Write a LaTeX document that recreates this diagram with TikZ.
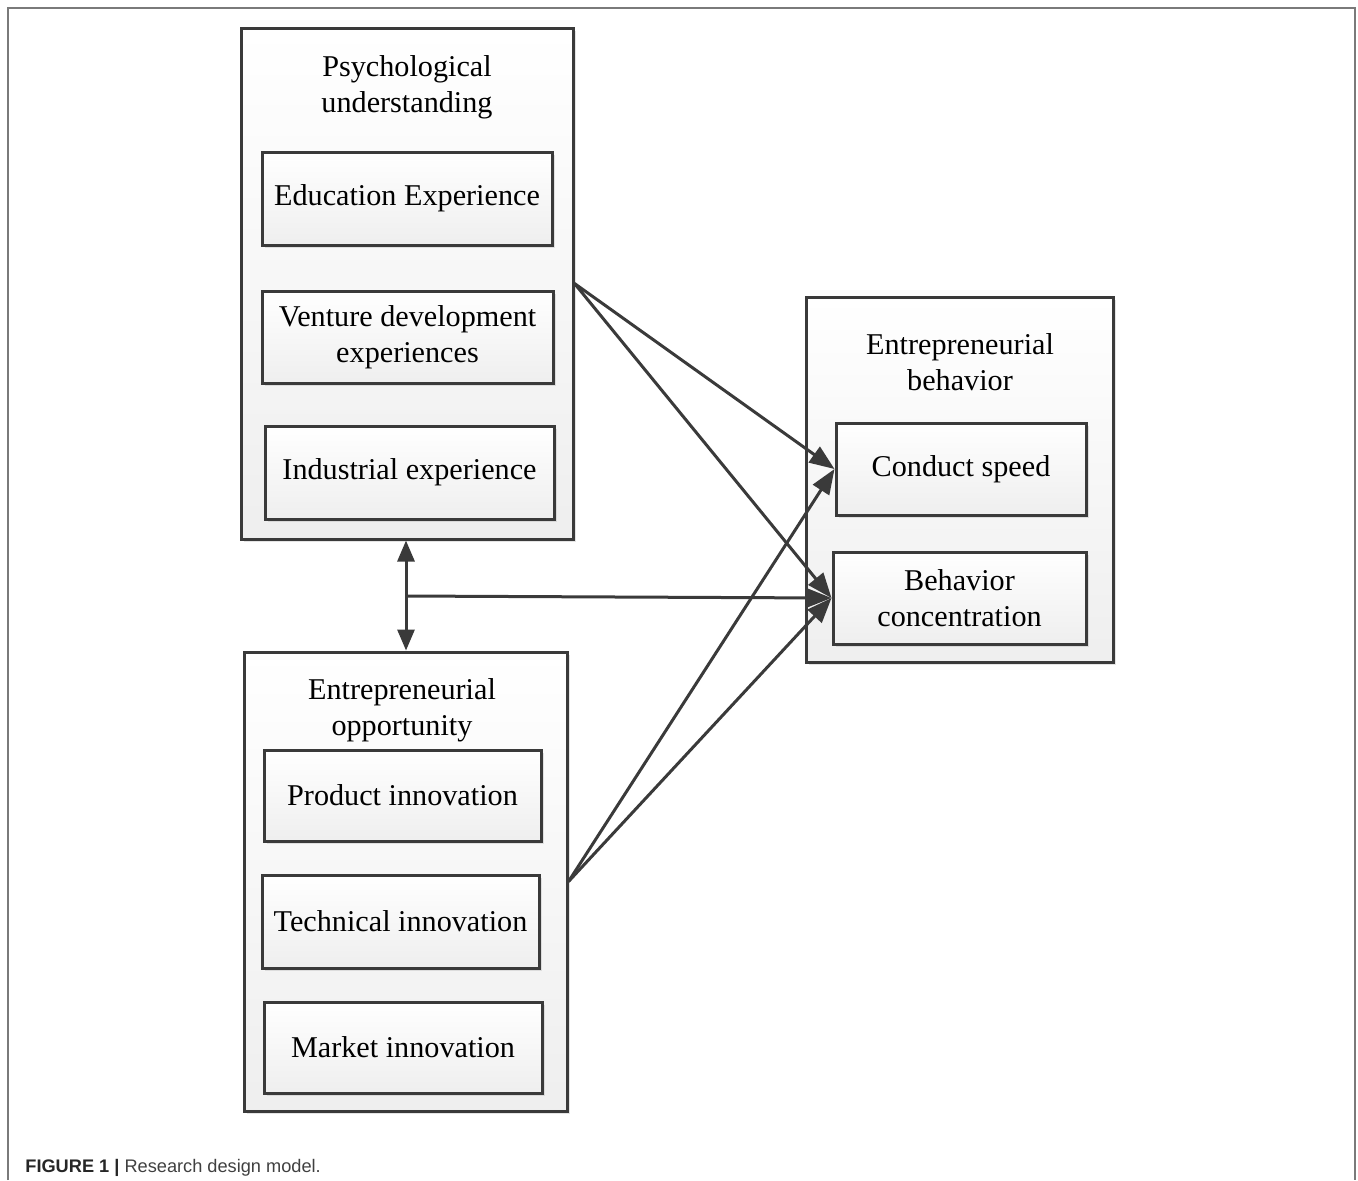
\documentclass[tikz,border=0pt]{standalone}
\usepackage{fontspec}
\setmainfont{Liberation Serif}
\newfontfamily\capfont{Liberation Sans}
\usetikzlibrary{positioning}
\usetikzlibrary{arrows.meta}
\usetikzlibrary{shadows}
\definecolor{boxline}{HTML}{3A3A3A}
\definecolor{framegray}{HTML}{7A7A7A}
\tikzset{
	every node/.style = {font=\fontsize{15.1}{18}\selectfont}
}
\tikzset{
	outerbox/.style = {draw=boxline, line width=1.5pt, top color=white, bottom color=gray!13,
		drop shadow={shadow xshift=1.6pt, shadow yshift=-1.6pt, fill=gray!60, opacity=.35}},
	innerbox/.style = {outerbox, align=center, inner sep=0pt},
	boxtitle/.style = {align=center, inner sep=0pt},
	link/.style = {draw=boxline, line width=1.5pt, -{Triangle[length=12.5pt, width=9.5pt]}}
}

\begin{document}
\begin{tikzpicture}[x=0.5pt, y=-0.5pt]
        \useasboundingbox (0,0) rectangle (1358,1180);

        % frame round the figure
        \draw[framegray, line width=0.9pt] (8,1180) -- (8,8) -- (1355,8) -- (1355,1180);

        % Psychological understanding
        \node[outerbox, minimum width=166pt, minimum height=255.5pt] (psych) at (407,283.5) {};
        \node[boxtitle] (psychtitle) at (407,87) {Psychological\\understanding};
        \node[innerbox, minimum width=145pt, minimum height=46.5pt] (edu) at (407,198.5) {Education Experience};
        \node[innerbox, minimum width=145.5pt, minimum height=46pt] (venture) at (407.5,337) {Venture development\\experiences};
        \node[innerbox, minimum width=144.5pt, minimum height=46.5pt] (industry) at (409.5,472.5) {Industrial experience};

        % Entrepreneurial opportunity
        \node[outerbox, minimum width=161.5pt, minimum height=229.5pt] (oppo) at (405.5,881.5) {};
        \node[boxtitle] (oppotitle) at (402,710) {Entrepreneurial\\opportunity};
        \node[innerbox, minimum width=138.5pt, minimum height=45.5pt] (product) at (402.5,795.5) {Product innovation};
        \node[innerbox, minimum width=138.5pt, minimum height=46.5pt] (technical) at (400.5,921.5) {Technical innovation};
        \node[innerbox, minimum width=139pt, minimum height=45.5pt] (market) at (403,1047.5) {Market innovation};

        % Entrepreneurial behavior
        \node[outerbox, minimum width=153.5pt, minimum height=182.5pt] (behav) at (959.5,479.5) {};
        \node[boxtitle] (behavtitle) at (960,362) {Entrepreneurial\\behavior};
        \node[innerbox, minimum width=125pt, minimum height=46pt] (speed) at (961,469) {Conduct speed};
        \node[innerbox, minimum width=126.5pt, minimum height=46pt] (conc) at (959.5,598) {Behavior\\concentration};

        % connectors
        \coordinate (joint) at (406,596);
        \draw[link] (psych.east) -- (speed.west);
        \draw[link] (psych.east) -- (conc.west);
        \draw[link] (oppo.east) -- (speed.west);
        \draw[link] (oppo.east) -- (conc.west);
        \draw[link, {Triangle[length=10.5pt, width=8.5pt]}-{Triangle[length=10.5pt, width=8.5pt]}]
            (psych.south -| joint) -- (oppo.north -| joint);
        \draw[link] (joint) -- (conc.west);

        % caption
        \node[anchor=base west, inner sep=0pt, font=\capfont\fontsize{9.1}{10}\selectfont, text=black!85]
            (caption) at (25,1172) {\textbf{FIGURE 1 |} \textcolor{black!75}{Research design model.}};
\end{tikzpicture}
\end{document}
